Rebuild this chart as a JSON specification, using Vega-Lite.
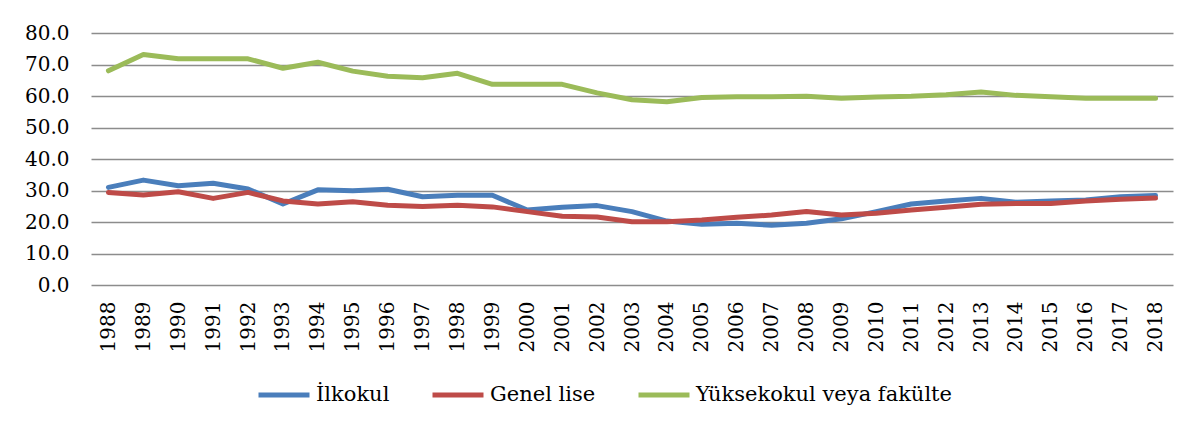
{
  "$schema": "https://vega.github.io/schema/vega-lite/v6.json",
  "width": 1082,
  "height": 252,
  "autosize": {"type": "none"},
  "padding": {"left": 91, "top": 33, "right": 27, "bottom": 147},
  "background": "#ffffff",
  "config": {
    "view": {"stroke": null},
    "font": "DejaVu Serif"
  },
  "data": {
    "values": [
      {"year": "1988", "İlkokul": 31.0, "Genel lise": 29.4, "Yüksekokul veya fakülte": 68.0},
      {"year": "1989", "İlkokul": 33.3, "Genel lise": 28.6, "Yüksekokul veya fakülte": 73.2},
      {"year": "1990", "İlkokul": 31.5, "Genel lise": 29.6, "Yüksekokul veya fakülte": 71.8},
      {"year": "1991", "İlkokul": 32.3, "Genel lise": 27.5, "Yüksekokul veya fakülte": 71.8},
      {"year": "1992", "İlkokul": 30.5, "Genel lise": 29.4, "Yüksekokul veya fakülte": 71.8},
      {"year": "1993", "İlkokul": 25.7, "Genel lise": 26.7, "Yüksekokul veya fakülte": 68.8},
      {"year": "1994", "İlkokul": 30.2, "Genel lise": 25.7, "Yüksekokul veya fakülte": 70.7},
      {"year": "1995", "İlkokul": 29.9, "Genel lise": 26.4, "Yüksekokul veya fakülte": 67.9},
      {"year": "1996", "İlkokul": 30.4, "Genel lise": 25.3, "Yüksekokul veya fakülte": 66.3},
      {"year": "1997", "İlkokul": 28.0, "Genel lise": 24.9, "Yüksekokul veya fakülte": 65.8},
      {"year": "1998", "İlkokul": 28.5, "Genel lise": 25.3, "Yüksekokul veya fakülte": 67.2},
      {"year": "1999", "İlkokul": 28.5, "Genel lise": 24.8, "Yüksekokul veya fakülte": 63.7},
      {"year": "2000", "İlkokul": 23.8, "Genel lise": 23.3, "Yüksekokul veya fakülte": 63.7},
      {"year": "2001", "İlkokul": 24.7, "Genel lise": 21.8, "Yüksekokul veya fakülte": 63.7},
      {"year": "2002", "İlkokul": 25.2, "Genel lise": 21.6, "Yüksekokul veya fakülte": 61.0},
      {"year": "2003", "İlkokul": 23.3, "Genel lise": 20.1, "Yüksekokul veya fakülte": 58.8},
      {"year": "2004", "İlkokul": 20.3, "Genel lise": 20.1, "Yüksekokul veya fakülte": 58.2},
      {"year": "2005", "İlkokul": 19.3, "Genel lise": 20.6, "Yüksekokul veya fakülte": 59.5},
      {"year": "2006", "İlkokul": 19.6, "Genel lise": 21.5, "Yüksekokul veya fakülte": 59.8},
      {"year": "2007", "İlkokul": 19.0, "Genel lise": 22.2, "Yüksekokul veya fakülte": 59.8},
      {"year": "2008", "İlkokul": 19.6, "Genel lise": 23.3, "Yüksekokul veya fakülte": 59.9},
      {"year": "2009", "İlkokul": 21.0, "Genel lise": 22.2, "Yüksekokul veya fakülte": 59.3},
      {"year": "2010", "İlkokul": 23.3, "Genel lise": 22.8, "Yüksekokul veya fakülte": 59.7},
      {"year": "2011", "İlkokul": 25.7, "Genel lise": 23.8, "Yüksekokul veya fakülte": 59.9},
      {"year": "2012", "İlkokul": 26.7, "Genel lise": 24.7, "Yüksekokul veya fakülte": 60.4},
      {"year": "2013", "İlkokul": 27.5, "Genel lise": 25.6, "Yüksekokul veya fakülte": 61.3},
      {"year": "2014", "İlkokul": 26.3, "Genel lise": 25.9, "Yüksekokul veya fakülte": 60.2},
      {"year": "2015", "İlkokul": 26.7, "Genel lise": 25.9, "Yüksekokul veya fakülte": 59.8},
      {"year": "2016", "İlkokul": 27.0, "Genel lise": 26.7, "Yüksekokul veya fakülte": 59.3},
      {"year": "2017", "İlkokul": 28.0, "Genel lise": 27.2, "Yüksekokul veya fakülte": 59.3},
      {"year": "2018", "İlkokul": 28.4, "Genel lise": 27.6, "Yüksekokul veya fakülte": 59.3}
    ]
  },
  "transform": [
    {"fold": ["İlkokul", "Genel lise", "Yüksekokul veya fakülte"], "as": ["series", "value"]}
  ],
  "mark": {"type": "line", "strokeWidth": 5, "strokeCap": "round", "strokeJoin": "round"},
  "encoding": {
    "x": {
      "field": "year",
      "type": "ordinal",
      "scale": {"type": "point", "padding": 0.5},
      "axis": {
        "title": null,
        "labelAngle": -90,
        "labelFont": "DejaVu Serif",
        "labelFontSize": 20,
        "labelColor": "#000000",
        "labelPadding": 16,
        "domain": false,
        "ticks": false,
        "grid": false
      }
    },
    "y": {
      "field": "value",
      "type": "quantitative",
      "scale": {"domain": [0, 80], "nice": false},
      "axis": {
        "title": null,
        "values": [0, 10, 20, 30, 40, 50, 60, 70, 80],
        "format": ".1f",
        "labelFont": "DejaVu Serif",
        "labelFontSize": 20,
        "labelColor": "#000000",
        "labelPadding": 22,
        "domain": false,
        "ticks": false,
        "grid": true,
        "gridColor": "#8c8c8c",
        "gridWidth": 1.5
      }
    },
    "color": {
      "field": "series",
      "type": "nominal",
      "scale": {
        "domain": ["İlkokul", "Genel lise", "Yüksekokul veya fakülte"],
        "range": ["#4a7ebb", "#be4b48", "#9bbb59"]
      },
      "legend": {
        "title": null,
        "orient": "none",
        "direction": "horizontal",
        "legendX": 165,
        "legendY": 334,
        "symbolType": "stroke",
        "symbolSize": 2601,
        "symbolStrokeWidth": 5,
        "labelFont": "DejaVu Serif",
        "labelFontSize": 21,
        "labelColor": "#000000",
        "labelOffset": 4,
        "columnPadding": 32,
        "labelLimit": 400
      }
    }
  }
}
